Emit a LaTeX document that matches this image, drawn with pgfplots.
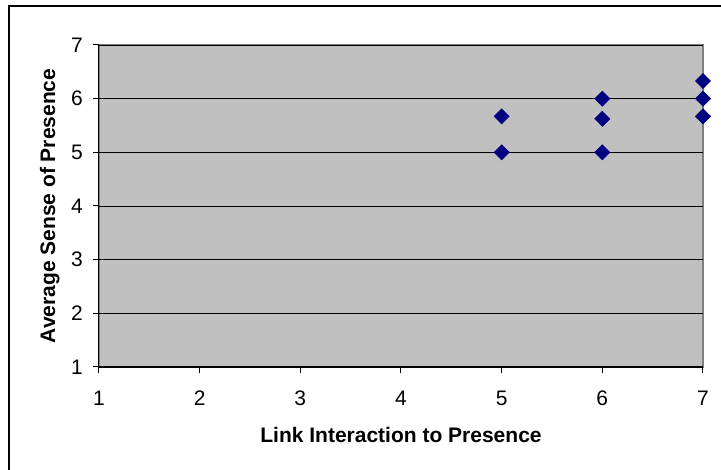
\documentclass[border=0pt]{standalone}
\usepackage{fontspec}
\setmainfont{Liberation Sans}
\usepackage{pgfplots}
\pgfplotsset{compat=1.18}
\definecolor{plotbg}{RGB}{192,192,192}
\definecolor{frameg}{RGB}{128,128,128}
\definecolor{navymark}{RGB}{0,0,128}
\begin{document}
\begin{tikzpicture}[x=1pt,y=1pt]
\useasboundingbox (0,0) rectangle (721,470);
% chart area frame (left and top edges)
\draw[black, line width=1.2pt] (9,0) -- (9,464) -- (721,464);
\begin{axis}[
  at={(99pt,103pt)}, anchor=south west,
  scale only axis, width=604pt, height=322pt,
  xmin=1, xmax=7, ymin=1, ymax=7,
  xtick={1,...,7}, ytick={1,...,7},
  axis background/.style={fill=plotbg, draw=frameg, line width=1.4pt},
  axis lines=left, axis line style={-, black, line width=1pt},
  tick align=outside, major tick length=6pt,
  tick style={black, line width=1pt},
  ymajorgrids, grid style={black, line width=0.9pt},
  /pgf/number format/assume math mode=true,
  tick label style={font=\fontsize{21}{24}\selectfont, inner sep=0pt},
  yticklabel style={anchor=east, xshift=-10pt},
  xticklabel style={anchor=base, yshift=-33pt},
  xlabel={Link Interaction to Presence},
  ylabel={Average Sense of Presence},
  label style={font=\bfseries\fontsize{21}{24}\selectfont},
  xlabel style={at={(axis description cs:0.5,-0.233)}, anchor=base},
  ylabel style={at={(axis description cs:-0.0816,0.5)}, anchor=center},
  clip=false,
]
\addplot[only marks, mark=square*, mark size=5.4pt,
  mark options={rotate=45, fill=navymark, draw=navymark}]
  coordinates {
    (5,5.00) (5,5.67)
    (6,5.00) (6,5.625) (6,6.00)
    (7,5.67) (7,6.00) (7,6.33)
  };
\end{axis}
\end{tikzpicture}
\end{document}
